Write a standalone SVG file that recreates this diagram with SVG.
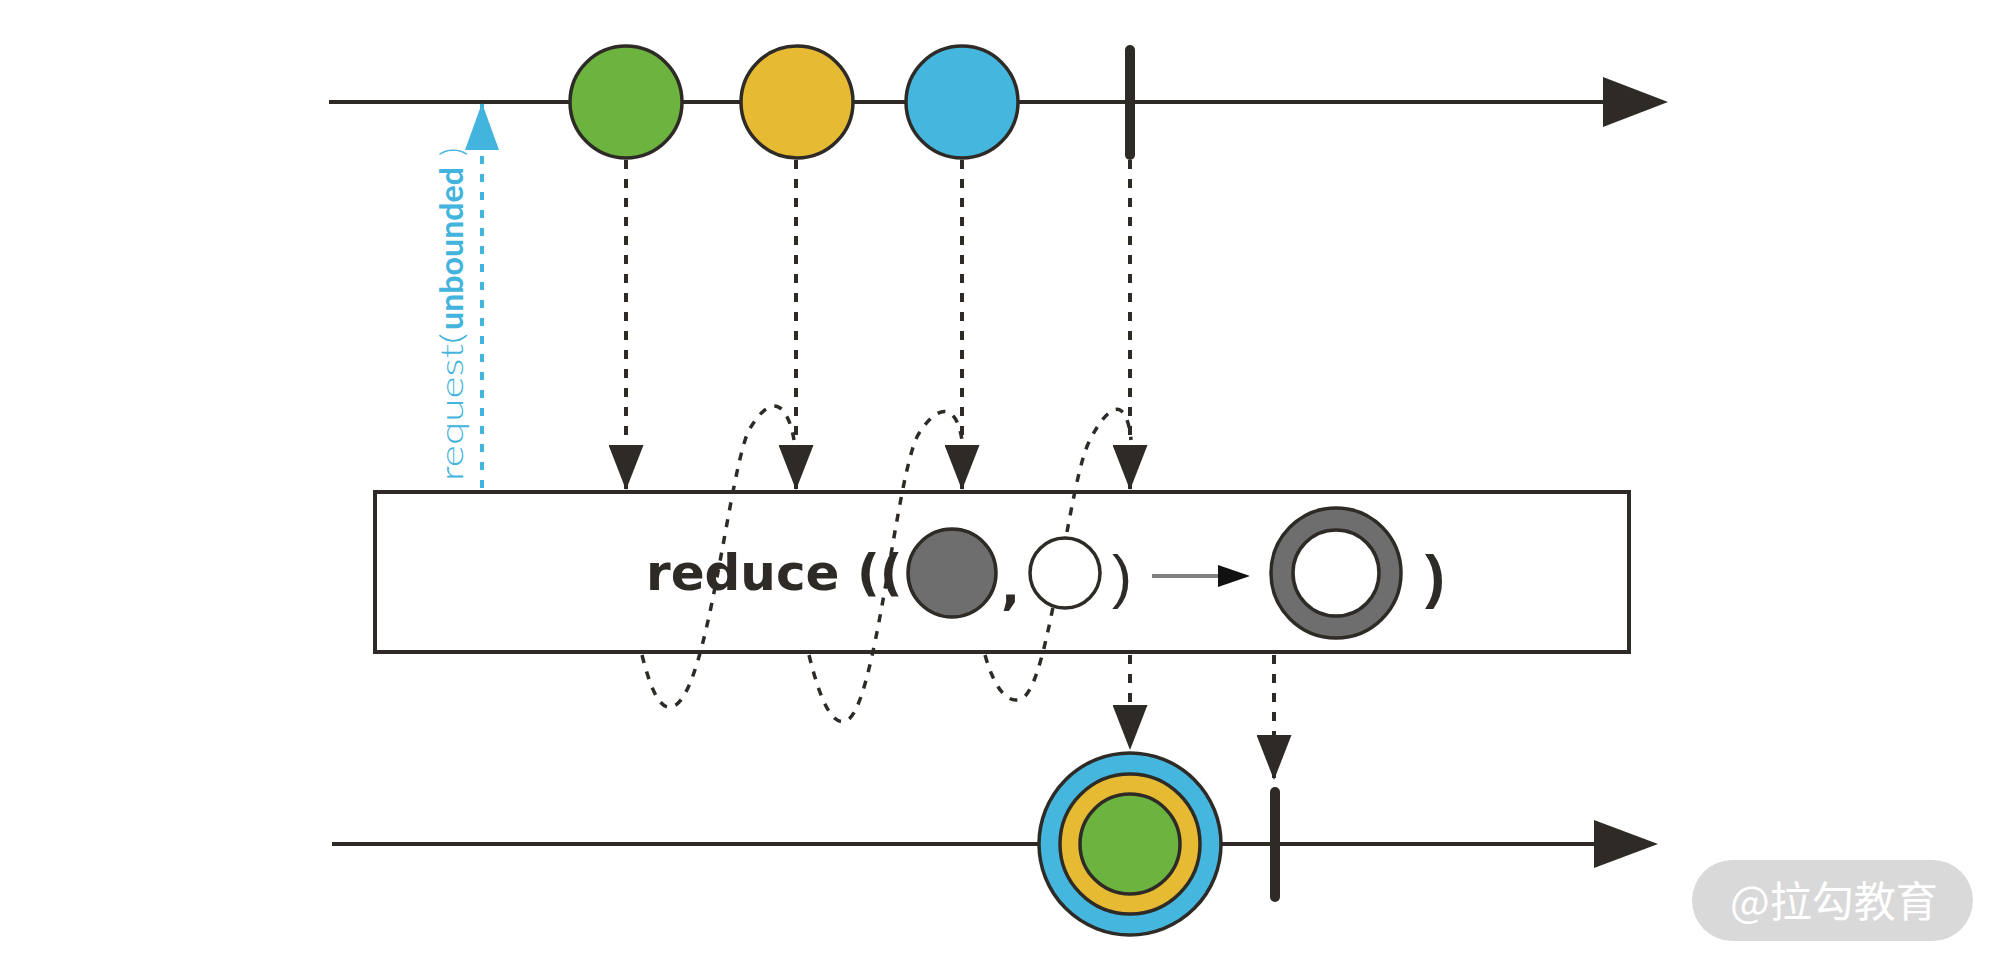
<svg xmlns="http://www.w3.org/2000/svg" width="2000" height="967" viewBox="0 0 2000 967">
<style>
.line{stroke:#2e2b27;stroke-width:4;fill:none}
.dash{stroke:#2e2b27;stroke-width:4;fill:none;stroke-dasharray:9 10}
.curve{stroke:#2e2b27;stroke-width:3.5;fill:none;stroke-dasharray:8 9}
.stop{stroke:#2e2b27;stroke-width:10;stroke-linecap:round}
.ball{stroke:#2e2b27;stroke-width:3.5}
.head{fill:#2e2b27}
.lbl{font-family:"DejaVu Sans",Verdana,sans-serif;font-weight:bold;fill:#2e2b27}
</style>
<defs>
<marker id="ah" markerUnits="userSpaceOnUse" viewBox="0 0 45 35" refX="44" refY="17.5" markerWidth="45" markerHeight="35" orient="auto">
<path d="M0,0 L45,17.5 L0,35 z" fill="#2e2b27"/>
</marker>
<marker id="ahb" markerUnits="userSpaceOnUse" viewBox="0 0 47 34" refX="46" refY="17" markerWidth="47" markerHeight="34" orient="auto">
<path d="M0,0 L47,17 L0,34 z" fill="#42b4dd"/>
</marker>
</defs>
<rect width="2000" height="967" fill="#ffffff"/>

<g id="source-timeline">
<line class="line" x1="329" y1="102" x2="1606" y2="102"/>
<polygon class="head" points="1603,77 1668,102 1603,127"/>
</g>
<g id="result-timeline">
<line class="line" x1="332" y1="844" x2="1596" y2="844"/>
<polygon class="head" points="1594,820 1658,844 1594,868"/>
</g>

<g id="reduce-box">
<rect x="375" y="492" width="1254" height="160" fill="#ffffff" stroke="#2e2b27" stroke-width="4"/>
</g>

<g id="connectors">
<line class="dash" x1="626" y1="160" x2="626" y2="489" marker-end="url(#ah)"/>
<line class="dash" x1="796" y1="160" x2="796" y2="489" marker-end="url(#ah)"/>
<line class="dash" x1="962" y1="160" x2="962" y2="489" marker-end="url(#ah)"/>
<line class="dash" x1="1130" y1="160" x2="1130" y2="489" marker-end="url(#ah)"/>
<line class="dash" x1="1130" y1="655" x2="1130" y2="749" marker-end="url(#ah)"/>
<line class="dash" x1="1274" y1="655" x2="1274" y2="779" marker-end="url(#ah)"/>
<line x1="482" y1="488" x2="482" y2="104" stroke="#42b4dd" stroke-width="4" stroke-dasharray="8 10" marker-end="url(#ahb)"/>
<path class="curve" d="M642,655 C652,695 662,712 674,706 C708,690 728,480 748,432 C760,410 772,402 780,408 C788,414 792,428 794,440"/>
<path class="curve" d="M809,655 C820,700 832,726 846,721 C876,710 896,475 918,435 C930,415 942,408 950,413 C957,418 960,428 962,440"/>
<path class="curve" d="M985,655 C995,690 1008,704 1021,699 C1050,688 1068,480 1090,440 C1100,420 1112,406 1120,410 C1127,414 1130,428 1131,440"/>
</g>

<g id="request-label">
<g transform="translate(463,481) rotate(-90)" fill="#42b4dd" font-family="Lato,'Open Sans',sans-serif" font-size="32">
<text x="0" y="0" font-weight="300" textLength="148" lengthAdjust="spacingAndGlyphs">request(</text>
<text x="151" y="0" font-weight="bold" textLength="163" lengthAdjust="spacingAndGlyphs">unbounded</text>
<text x="325" y="0" font-weight="300">)</text>
</g>
</g>

<g id="reduce-label">
<text class="lbl" x="646" y="590" font-size="50">reduce ((</text>
<circle cx="952" cy="573" r="44" fill="#6e6e6e" class="ball"/>
<text class="lbl" x="1001" y="604" font-size="50">,</text>
<circle cx="1065" cy="573" r="35" fill="#ffffff" class="ball"/>
<text x="1112" y="597" font-family="'Liberation Sans',Arial,sans-serif" font-size="60" fill="#2e2b27">)</text>
<line x1="1152" y1="576" x2="1222" y2="576" stroke="#808080" stroke-width="4"/>
<polygon points="1218,565 1250,576 1218,587" fill="#111111"/>
<circle cx="1336" cy="573" r="65" fill="#6e6e6e" class="ball"/>
<circle cx="1336" cy="573" r="43" fill="#ffffff" class="ball"/>
<text x="1425" y="597" font-family="'Liberation Sans',Arial,sans-serif" font-weight="bold" font-size="60" fill="#2e2b27">)</text>
</g>

<g id="green-item">
<circle cx="626" cy="102" r="56" fill="#6db33f" class="ball"/>
</g>
<g id="yellow-item">
<circle cx="797" cy="102" r="56" fill="#e6bb33" class="ball"/>
</g>
<g id="blue-item">
<circle cx="962" cy="102" r="56" fill="#45b7de" class="ball"/>
</g>
<g id="source-complete">
<line class="stop" x1="1130" y1="50" x2="1130" y2="155"/>
</g>

<g id="result-item">
<circle cx="1130" cy="844" r="91" fill="#45b7de" class="ball"/>
<circle cx="1130" cy="844" r="70" fill="#e6bb33" class="ball"/>
<circle cx="1130" cy="844" r="50" fill="#6db33f" class="ball"/>
</g>
<g id="result-complete">
<line class="stop" x1="1275" y1="792" x2="1275" y2="897" stroke-width="9"/>
</g>

<g id="watermark">
<rect x="1692" y="860" width="281" height="81" rx="40.5" fill="#d9d9d9"/>
<text x="1730" y="917" font-family="'Noto Sans CJK SC',sans-serif" font-size="42" fill="#ffffff">@拉勾教育</text>
</g>
</svg>
